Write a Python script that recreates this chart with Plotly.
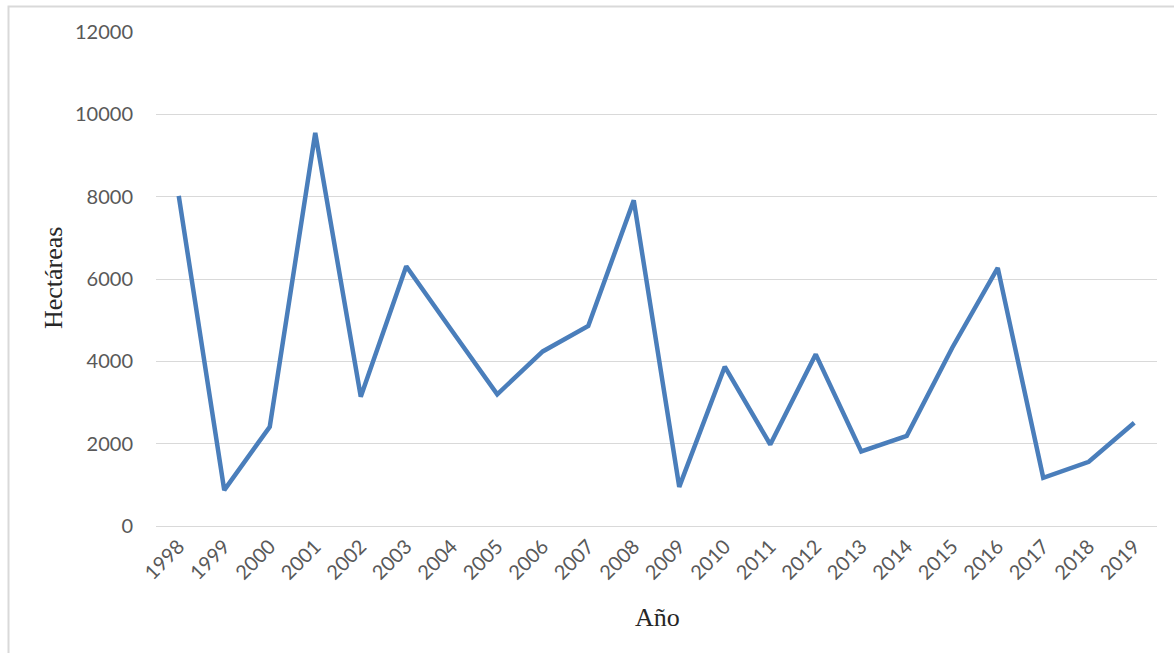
import plotly.graph_objects as go

# Área anual (hectáreas) por año
years = [str(y) for y in range(1998, 2020)]
hectareas = [8020, 870, 2410, 9550, 3140, 6310, 4750, 3200, 4240, 4860,
             7910, 950, 3870, 1980, 4170, 1810, 2190, 4330, 6270, 1170,
             1560, 2510]
y_ticks = [0, 2000, 4000, 6000, 8000, 10000, 12000]
y_tick_text = [str(v) for v in y_ticks]

W, H = 1174, 653
L, R, T, B = 156, 17, 32, 127
pw, ph = W - L - R, H - T - B

tick_font = dict(family="Lato, 'Open Sans', sans-serif", size=20, color="#595959")
title_font = dict(family="'Liberation Serif', 'Times New Roman', serif", size=26, color="#262626")

fig = go.Figure(
    go.Scatter(
        x=years, y=hectareas, mode="lines",
        line=dict(color="#4a7ebb", width=4.5),
        hoverinfo="x+y",
    )
)

fig.update_layout(
    width=W, height=H,
    margin=dict(l=L, r=R, t=T, b=B),
    paper_bgcolor="white", plot_bgcolor="white",
    showlegend=False,
    xaxis=dict(
        type="category", range=[-0.5, len(years) - 0.5],
        tickangle=-45, tickfont=tick_font,
        showgrid=False, showline=False, zeroline=False,
        ticks="", ticklabelstandoff=4,
    ),
    yaxis=dict(
        range=[0, 12000], tickvals=y_ticks, ticktext=y_tick_text,
        tickfont=tick_font,
        showgrid=True, gridcolor="#d9d9d9", gridwidth=1,
        zeroline=True, zerolinecolor="#d9d9d9", zerolinewidth=1,
        showline=False, ticks="", ticklabelstandoff=22,
    ),
    annotations=[
        dict(text="Año", xref="paper", yref="paper",
             x=(657 - L) / pw, y=(H - B - 617) / ph,
             showarrow=False, font=title_font,
             xanchor="center", yanchor="middle"),
        dict(text="Hectáreas", xref="paper", yref="paper",
             x=(53 - L) / pw, y=(H - B - 278) / ph,
             showarrow=False, font=title_font, textangle=-90,
             xanchor="center", yanchor="middle"),
    ],
    shapes=[
        # frame around the chart area (left and top edges visible)
        dict(type="rect", xref="paper", yref="paper",
             x0=(8.5 - L) / pw, x1=(W + 10 - L) / pw,
             y0=(H - B - (H + 10)) / ph, y1=(H - B - 6.5) / ph,
             line=dict(color="#d9d9d9", width=2), fillcolor="rgba(0,0,0,0)",
             layer="below"),
    ],
)

fig.write_html("out.html")
